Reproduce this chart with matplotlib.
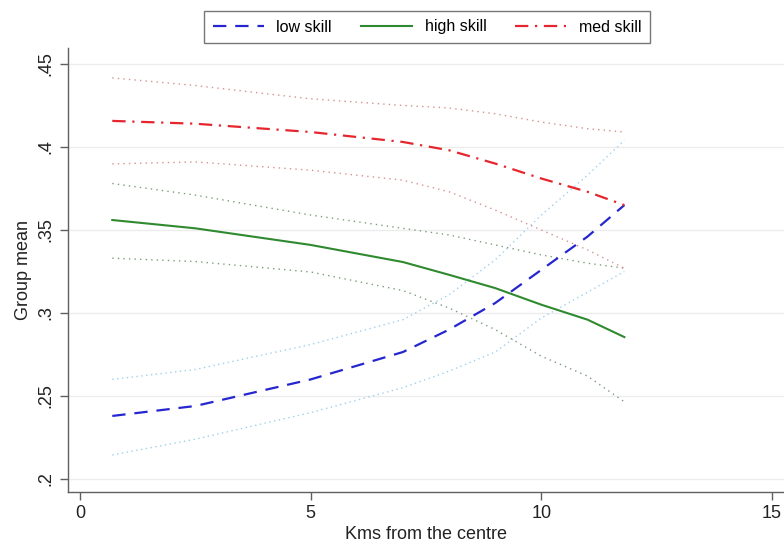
import matplotlib
matplotlib.use("Agg")
import matplotlib.pyplot as plt
import numpy as np

plt.rcParams['font.family'] = ['Liberation Sans', 'DejaVu Sans']

# distance (km) grid points
x = [0.7, 2.5, 5.0, 7.0, 8.0, 9.0, 10.0, 11.0, 11.8]

low_mean = [0.238, 0.244, 0.260, 0.2765, 0.290, 0.306, 0.326, 0.346, 0.365]
low_hi   = [0.260, 0.266, 0.281, 0.296, 0.311, 0.332, 0.359, 0.383, 0.404]
low_lo   = [0.2145, 0.224, 0.240, 0.255, 0.265, 0.2765, 0.297, 0.3125, 0.325]

high_mean = [0.356, 0.351, 0.341, 0.3307, 0.323, 0.315, 0.305, 0.296, 0.2855]
high_hi   = [0.378, 0.371, 0.359, 0.351, 0.347, 0.341, 0.335, 0.330, 0.327]
high_lo   = [0.333, 0.331, 0.3247, 0.3135, 0.303, 0.290, 0.274, 0.262, 0.2465]

med_mean = [0.4157, 0.414, 0.409, 0.403, 0.398, 0.390, 0.381, 0.373, 0.365]
med_hi   = [0.4416, 0.437, 0.429, 0.425, 0.4235, 0.420, 0.415, 0.411, 0.409]
med_lo   = [0.3898, 0.391, 0.386, 0.380, 0.373, 0.362, 0.350, 0.338, 0.327]

xticks = [0, 5, 10, 15]
yticks = [0.2, 0.25, 0.3, 0.35, 0.4, 0.45]
ytick_labels = ['.2', '.25', '.3', '.35', '.4', '.45']

c_low = '#2626d0'
c_high = '#2f8a2f'
c_med = '#e6262e'

fig = plt.figure(figsize=(7.84, 5.53), dpi=100)
ax = fig.add_axes([68/784, 1-492/553, 1-68/784, (492-48)/553])

ax.plot(x, low_mean, color=c_low, lw=1.6, ls=(0, (6, 4)), label='low skill', zorder=3)
ax.plot(x, high_mean, color=c_high, lw=1.5, ls='-', label='high skill', zorder=3)
ax.plot(x, med_mean, color=c_med, lw=1.6, ls=(0, (6, 3, 1, 3)), label='med skill', zorder=3)

ax.plot(x, low_hi, color='#9fd0ec', lw=1.0, ls=(0, (1, 2.5)), zorder=2)
ax.plot(x, low_lo, color='#9fd0ec', lw=1.0, ls=(0, (1, 2.5)), zorder=2)
ax.plot(x, high_hi, color='#7c9c7c', lw=1.0, ls=(0, (1, 3)), zorder=2)
ax.plot(x, high_lo, color='#7c9c7c', lw=1.0, ls=(0, (1, 3)), zorder=2)
ax.plot(x, med_hi, color='#d89090', lw=1.0, ls=(0, (1, 3)), zorder=2)
ax.plot(x, med_lo, color='#d89090', lw=1.0, ls=(0, (1, 3)), zorder=2)

ax.set_xlim(-0.26, 15.26)
ax.set_ylim(0.1922, 0.4596)
ax.set_xticks(xticks)
ax.set_xticklabels([str(t) for t in xticks])
ax.set_yticks(yticks)
ax.set_yticklabels(ytick_labels, rotation=90, va='center')

ax.grid(axis='y', color='#ececec', lw=1.0)
ax.set_axisbelow(True)
for s in ['top', 'right']:
    ax.spines[s].set_visible(False)
for s in ['left', 'bottom']:
    ax.spines[s].set_color('#606060')
    ax.spines[s].set_linewidth(1.0)
ax.tick_params(axis='both', colors='#606060', labelcolor='#222222', labelsize=13,
               length=6, width=1.0)

ax.set_xlabel('Kms from the centre', fontsize=13, color='#222222', labelpad=3)
ax.set_ylabel('Group mean', fontsize=13, color='#222222', labelpad=4)

leg = fig.legend(loc='center', bbox_to_anchor=(427/784, 1-27/553), ncol=3,
                 fontsize=11.5, frameon=True, fancybox=False, edgecolor='#555555',
                 handlelength=3.2, columnspacing=1.8, handletextpad=0.8,
                 borderpad=0.55, borderaxespad=0)
leg.get_frame().set_linewidth(1.0)

fig.savefig('out.png', dpi=100, facecolor='white')
